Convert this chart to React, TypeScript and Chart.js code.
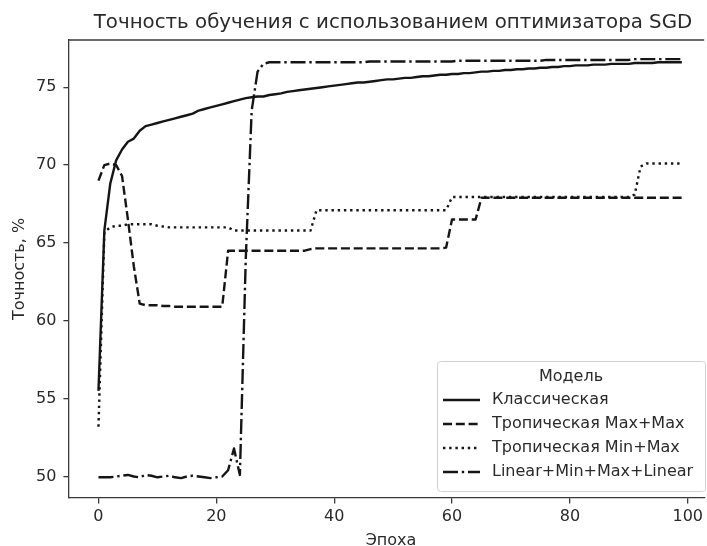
import { useEffect, useRef } from 'react';
import { Chart, registerables } from 'chart.js';

Chart.register(...registerables);

const chartTitle = 'Точность обучения с использованием оптимизатора SGD';
const xAxisTitle = 'Эпоха';
const yAxisTitle = 'Точность, %';
const legendTitle = 'Модель';

const xTicks = [0, 20, 40, 60, 80, 100];
const yTicks = [50, 55, 60, 65, 70, 75];

const seriesNames = [
  'Классическая',
  'Тропическая Max+Max',
  'Тропическая Min+Max',
  'Linear+Min+Max+Linear',
];

const classical = [
  55.5, 65.8, 68.8, 70.3, 71.0, 71.5, 71.7, 72.2, 72.5, 72.6,
  72.7, 72.8, 72.9, 73.0, 73.1, 73.2, 73.3, 73.5, 73.6, 73.7,
  73.8, 73.9, 74.0, 74.1, 74.2, 74.3, 74.35, 74.4, 74.4, 74.5,
  74.55, 74.6, 74.7, 74.75, 74.8, 74.85, 74.9, 74.95, 75.0, 75.05,
  75.1, 75.15, 75.2, 75.25, 75.3, 75.3, 75.35, 75.4, 75.45, 75.5,
  75.5, 75.55, 75.6, 75.6, 75.65, 75.7, 75.7, 75.75, 75.8, 75.8,
  75.85, 75.85, 75.9, 75.9, 75.95, 76.0, 76.0, 76.05, 76.05, 76.1,
  76.1, 76.15, 76.15, 76.2, 76.2, 76.25, 76.25, 76.3, 76.3, 76.35,
  76.35, 76.4, 76.4, 76.4, 76.45, 76.45, 76.45, 76.5, 76.5, 76.5,
  76.5, 76.55, 76.55, 76.55, 76.55, 76.6, 76.6, 76.6, 76.6, 76.6,
];

const tropMaxMax = [
  69.0, 70.0, 70.1, 70.0, 69.3, 66.5, 63.5, 61.1, 61.0, 61.0,
  61.0, 60.95, 60.95, 60.9, 60.9, 60.9, 60.9, 60.9, 60.9, 60.9,
  60.9, 60.9, 64.5, 64.5, 64.5, 64.5, 64.5, 64.5, 64.5, 64.5,
  64.5, 64.5, 64.5, 64.5, 64.5, 64.5, 64.6, 64.65, 64.65, 64.65,
  64.65, 64.65, 64.65, 64.65, 64.65, 64.65, 64.65, 64.65, 64.65, 64.65,
  64.65, 64.65, 64.65, 64.65, 64.65, 64.65, 64.65, 64.65, 64.65, 64.7,
  66.5, 66.5, 66.5, 66.5, 66.5, 67.9, 67.9, 67.9, 67.9, 67.9,
  67.9, 67.9, 67.9, 67.9, 67.9, 67.9, 67.9, 67.9, 67.9, 67.9,
  67.9, 67.9, 67.9, 67.9, 67.9, 67.9, 67.9, 67.9, 67.9, 67.9,
  67.9, 67.9, 67.9, 67.9, 67.9, 67.9, 67.9, 67.9, 67.9, 67.9,
];

const tropMinMax = [
  53.2, 65.7, 66.0, 66.1, 66.1, 66.2, 66.2, 66.2, 66.2, 66.2,
  66.1, 66.05, 66.0, 66.0, 66.0, 66.0, 66.0, 66.0, 66.0, 66.0,
  66.0, 66.0, 66.0, 65.8, 65.8, 65.8, 65.8, 65.8, 65.8, 65.8,
  65.8, 65.8, 65.8, 65.8, 65.8, 65.8, 65.8, 67.1, 67.1, 67.1,
  67.1, 67.1, 67.1, 67.1, 67.1, 67.1, 67.1, 67.1, 67.1, 67.1,
  67.1, 67.1, 67.1, 67.1, 67.1, 67.1, 67.1, 67.1, 67.1, 67.1,
  67.95, 67.95, 67.95, 67.95, 67.95, 67.95, 67.95, 67.95, 67.95, 67.95,
  67.95, 67.95, 67.95, 67.95, 67.95, 67.95, 67.95, 67.95, 67.95, 67.95,
  67.95, 67.95, 67.95, 67.95, 67.95, 67.95, 67.95, 67.95, 67.95, 67.95,
  67.95, 68.1, 69.9, 70.1, 70.1, 70.1, 70.1, 70.1, 70.1, 70.1,
];

const linearMinMax = [
  49.95, 49.95, 49.95, 50.0, 50.05, 50.1, 50.0, 49.95, 50.1, 50.05,
  49.95, 50.0, 50.05, 49.95, 49.9, 50.0, 50.05, 50.0, 49.95, 49.9,
  49.95, 50.0, 50.4, 51.8, 50.1, 64.0, 73.5, 76.0, 76.5, 76.6,
  76.6, 76.6, 76.6, 76.6, 76.6, 76.6, 76.6, 76.6, 76.6, 76.6,
  76.6, 76.6, 76.6, 76.6, 76.6, 76.6, 76.65, 76.65, 76.65, 76.65,
  76.65, 76.65, 76.65, 76.65, 76.65, 76.65, 76.65, 76.65, 76.65, 76.65,
  76.65, 76.7, 76.7, 76.7, 76.7, 76.7, 76.7, 76.7, 76.7, 76.7,
  76.7, 76.7, 76.7, 76.7, 76.7, 76.7, 76.75, 76.75, 76.75, 76.75,
  76.75, 76.75, 76.75, 76.75, 76.75, 76.75, 76.75, 76.75, 76.75, 76.75,
  76.75, 76.8, 76.8, 76.8, 76.8, 76.8, 76.8, 76.8, 76.8, 76.8,
];

const FONT = "'DejaVu Sans', sans-serif";
const LINE_COLOR = '#151515';
const TEXT_COLOR = '#2a2a2a';
const SPINE_COLOR = '#3a3a3a';

const dashStyles: number[][] = [[], [9, 3.8], [2.4, 3.8], [15, 3.8, 2.4, 3.8]];

const decorPlugin = {
  id: 'decor',
  afterDraw(chart: any) {
    const { ctx, chartArea } = chart;
    ctx.save();
    // top spine
    ctx.strokeStyle = SPINE_COLOR;
    ctx.lineWidth = 1.3;
    ctx.beginPath();
    ctx.moveTo(chartArea.left, chartArea.top);
    ctx.lineTo(chartArea.right, chartArea.top);
    ctx.stroke();

    // title
    ctx.fillStyle = TEXT_COLOR;
    ctx.font = `19.8px ${FONT}`;
    ctx.textAlign = 'center';
    ctx.textBaseline = 'alphabetic';
    ctx.fillText(chartTitle, 393, 28);

    // axis titles
    ctx.font = `16px ${FONT}`;
    ctx.textBaseline = 'top';
    ctx.fillText(xAxisTitle, 391, 533);
    ctx.save();
    ctx.translate(20, 269);
    ctx.rotate(-Math.PI / 2);
    ctx.textBaseline = 'middle';
    ctx.fillText(yAxisTitle, 0, 0);
    ctx.restore();

    // legend
    const bx = 437, by = 361, bw = 268, bh = 130;
    ctx.fillStyle = 'rgba(255,255,255,0.85)';
    ctx.strokeStyle = '#d2d2d2';
    ctx.lineWidth = 1;
    ctx.beginPath();
    (ctx as any).roundRect(bx + 0.5, by + 0.5, bw, bh, 3);
    ctx.fill();
    ctx.stroke();

    ctx.fillStyle = TEXT_COLOR;
    ctx.font = `16px ${FONT}`;
    ctx.textAlign = 'center';
    ctx.textBaseline = 'middle';
    ctx.fillText(legendTitle, bx + bw / 2, 377);

    const rowY = [400, 424, 448, 472];
    chart.data.datasets.forEach((ds: any, i: number) => {
      const y = rowY[i];
      ctx.strokeStyle = LINE_COLOR;
      ctx.lineWidth = 2.4;
      ctx.lineCap = 'butt';
      ctx.setLineDash(ds.borderDash || []);
      ctx.beginPath();
      ctx.moveTo(443, y);
      ctx.lineTo(480, y);
      ctx.stroke();
      ctx.setLineDash([]);
      ctx.fillStyle = TEXT_COLOR;
      ctx.textAlign = 'left';
      ctx.fillText(ds.label, 492, y);
    });
    ctx.restore();
  },
};

export default function App() {
  const ref = useRef<HTMLCanvasElement | null>(null);

  useEffect(() => {
    if (!ref.current) return;
    const series = [classical, tropMaxMax, tropMinMax, linearMinMax];
    const chart = new Chart(ref.current, {
      type: 'line',
      data: {
        datasets: series.map((vals, i) => ({
          label: seriesNames[i],
          data: vals.map((y, x) => ({ x, y })),
          borderColor: LINE_COLOR,
          borderWidth: 2.4,
          borderDash: dashStyles[i],
          borderCapStyle: 'butt' as const,
          borderJoinStyle: 'round' as const,
          pointRadius: 0,
          tension: 0,
          fill: false,
        })),
      },
      options: {
        responsive: false,
        animation: false,
        layout: { padding: { top: 40, left: 0, right: 0, bottom: 0 } },
        plugins: {
          legend: { display: false },
          title: { display: false },
          tooltip: { enabled: false },
        },
        scales: {
          x: {
            type: 'linear',
            min: -5,
            max: 102.8,
            afterBuildTicks: (s: any) => {
              s.ticks = xTicks.map((v) => ({ value: v }));
            },
            afterFit: (s: any) => {
              s.height = 48;
            },
            ticks: {
              font: { family: FONT, size: 16 },
              color: TEXT_COLOR,
              padding: 4,
              maxRotation: 0,
              autoSkip: false,
            },
            grid: {
              drawOnChartArea: false,
              drawTicks: true,
              tickLength: 5.6,
              color: SPINE_COLOR,
              lineWidth: 1.3,
            },
            border: { display: true, color: SPINE_COLOR, width: 1.3 },
          },
          y: {
            type: 'linear',
            min: 48.62,
            max: 78.03,
            afterBuildTicks: (s: any) => {
              s.ticks = yTicks.map((v) => ({ value: v }));
            },
            afterFit: (s: any) => {
              s.width = 69;
            },
            ticks: {
              font: { family: FONT, size: 16 },
              color: TEXT_COLOR,
              padding: 7,
              autoSkip: false,
            },
            grid: {
              drawOnChartArea: false,
              drawTicks: true,
              tickLength: 5.6,
              color: SPINE_COLOR,
              lineWidth: 1.3,
            },
            border: { display: true, color: SPINE_COLOR, width: 1.3 },
          },
        },
      },
      plugins: [decorPlugin],
    });
    return () => chart.destroy();
  }, []);

  return (
    <div style={{ position: 'fixed', left: 0, top: 0, width: 707, height: 546, background: '#fff' }}>
      <canvas ref={ref} width={707} height={546} />
    </div>
  );
}
